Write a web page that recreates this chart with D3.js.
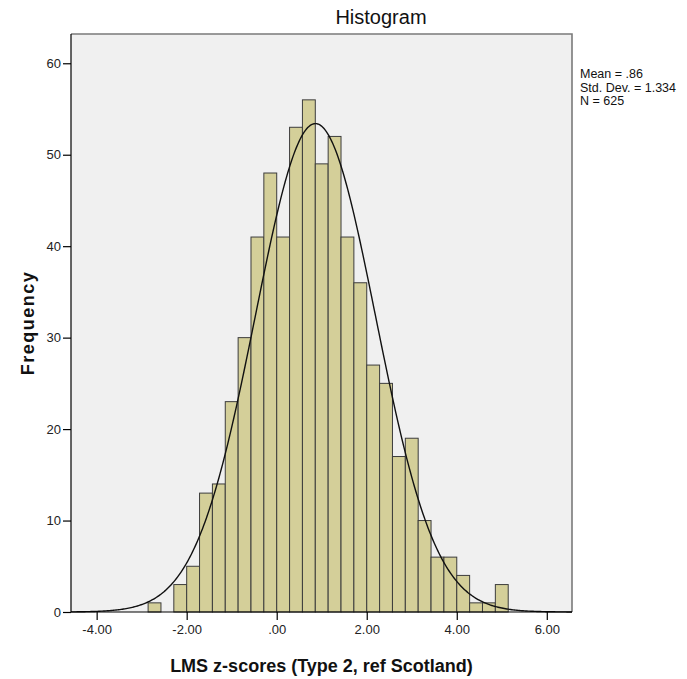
<!DOCTYPE html>
<html>
<head>
<meta charset="utf-8">
<script src="https://cdn.jsdelivr.net/npm/d3@7/dist/d3.min.js"></script>
<style>
  html, body { margin: 0; padding: 0; background: #ffffff; }
  svg { display: block; font-family: "Liberation Sans", Arial, sans-serif; }
</style>
</head>
<body>
<svg id="chart" width="687" height="679"></svg>
<script>
// Histogram of LMS z-scores with fitted normal curve
const binStart = -20 / 7;     // lower edge of the first bin
const binWidth = 2 / 7;       // width of every bin
const counts = [1, 0, 3, 5, 13, 14, 23, 30, 41, 48, 41, 53, 56, 49, 52,
                41, 36, 27, 25, 17, 19, 10, 6, 6, 4, 1, 1, 3];

const stats = { mean: 0.86, sd: 1.334, n: 625 };
const statLines = ["Mean = .86", "Std. Dev. = 1.334", "N = 625"];

const xTicks = [-4, -2, 0, 2, 4, 6];
const xTickLabels = ["-4.00", "-2.00", ".00", "2.00", "4.00", "6.00"];
const yTicks = [0, 10, 20, 30, 40, 50, 60];
const yTickLabels = ["0", "10", "20", "30", "40", "50", "60"];

const plot = { left: 71, right: 572, top: 34, bottom: 612 };

const svg = d3.select("#chart");

const x = d3.scaleLinear().domain([-4.57, 6.56]).range([plot.left, plot.right]);
const y = d3.scaleLinear().domain([0, 63.2]).range([plot.bottom, plot.top]);

// plot background
svg.append("rect")
  .attr("x", plot.left).attr("y", plot.top)
  .attr("width", plot.right - plot.left).attr("height", plot.bottom - plot.top)
  .attr("fill", "#f0f0f0");

// top and right frame
svg.append("path")
  .attr("d", `M${plot.left},${plot.top}H${plot.right}V${plot.bottom}`)
  .attr("fill", "none").attr("stroke", "#7a7a7a").attr("stroke-width", 1.6);

// bars
const bins = counts.map((c, i) => ({ x0: binStart + i * binWidth, x1: binStart + (i + 1) * binWidth, c }))
  .filter(d => d.c > 0);

svg.append("g").selectAll("rect")
  .data(bins)
  .join("rect")
  .attr("x", d => x(d.x0))
  .attr("y", d => y(d.c))
  .attr("width", d => x(d.x1) - x(d.x0))
  .attr("height", d => y(0) - y(d.c))
  .attr("fill", "#d4cf99")
  .attr("stroke", "#3c3c3c")
  .attr("stroke-width", 1);

// normal curve scaled to counts
const scaleK = stats.n * binWidth / (stats.sd * Math.sqrt(2 * Math.PI));
const curvePts = d3.range(0, 401).map(i => {
  const v = x.domain()[0] + (x.domain()[1] - x.domain()[0]) * i / 400;
  const z = (v - stats.mean) / stats.sd;
  return [v, scaleK * Math.exp(-0.5 * z * z)];
});
svg.append("path")
  .datum(curvePts)
  .attr("d", d3.line().x(d => x(d[0])).y(d => y(d[1])))
  .attr("fill", "none")
  .attr("stroke", "#111")
  .attr("stroke-width", 1.4);

// axes
const xAxis = d3.axisBottom(x)
  .tickValues(xTicks)
  .tickFormat((d, i) => xTickLabels[i])
  .tickSize(8).tickSizeOuter(0).tickPadding(5);
const gx = svg.append("g").attr("transform", `translate(0,${plot.bottom})`).call(xAxis);

const yAxis = d3.axisLeft(y)
  .tickValues(yTicks)
  .tickFormat((d, i) => yTickLabels[i])
  .tickSize(8).tickSizeOuter(0).tickPadding(2);
const gy = svg.append("g").attr("transform", `translate(${plot.left},0)`).call(yAxis);

[gx, gy].forEach(g => {
  g.select(".domain").attr("stroke", "#000").attr("stroke-width", 1.2);
  g.selectAll(".tick line").attr("stroke", "#000").attr("stroke-width", 1.2);
  g.selectAll(".tick text")
    .attr("fill", "#222")
    .style("font-family", "'Liberation Sans', Arial, sans-serif")
    .style("font-size", "13px");
});
// bottom axis spans the full plot width
gx.select(".domain").attr("d", `M${plot.left},0H${plot.right}`);
gy.select(".domain").attr("d", `M0,${plot.top}V${plot.bottom}`);

// title
svg.append("text")
  .attr("x", 381).attr("y", 24)
  .attr("text-anchor", "middle")
  .attr("fill", "#111")
  .style("font-size", "20px")
  .text("Histogram");

// axis titles
svg.append("text")
  .attr("x", (plot.left + plot.right) / 2).attr("y", 672)
  .attr("text-anchor", "middle")
  .attr("fill", "#111")
  .style("font-size", "18px").style("font-weight", "bold")
  .text("LMS z-scores (Type 2, ref Scotland)");

svg.append("text")
  .attr("transform", "translate(34,323) rotate(-90)")
  .attr("text-anchor", "middle")
  .attr("fill", "#111")
  .style("font-size", "18px").style("font-weight", "bold")
  .style("letter-spacing", "1.5px")
  .text("Frequency");

// summary statistics
svg.append("g").selectAll("text")
  .data(statLines)
  .join("text")
  .attr("x", 580)
  .attr("y", (d, i) => 78 + i * 13.5)
  .attr("fill", "#111")
  .style("font-size", "12.5px")
  .text(d => d);
</script>
</body>
</html>
